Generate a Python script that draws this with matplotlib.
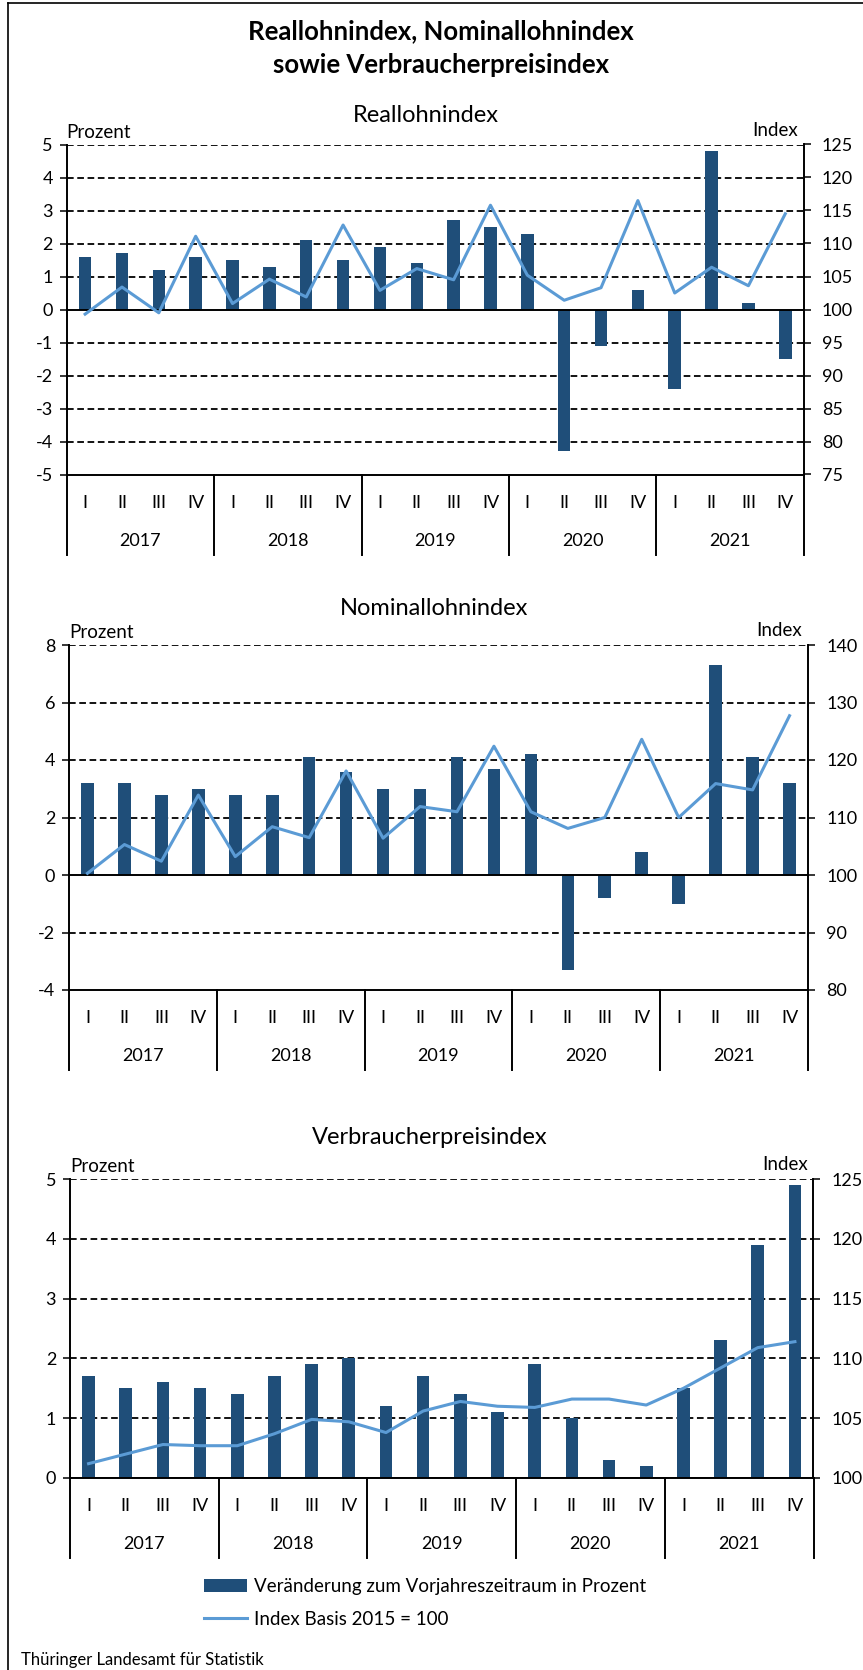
import matplotlib
matplotlib.use("Agg")
import matplotlib.pyplot as plt
import matplotlib.transforms as mtransforms
from matplotlib.lines import Line2D

plt.rcParams["font.family"] = ["Lato", "DejaVu Sans"]
plt.rcParams["axes.unicode_minus"] = False
plt.rcParams["lines.scale_dashes"] = False

W, H = 863, 1670
DARK = "#1F4E79"
LIGHT = "#5B9BD5"
FS = 13.5      # normal text
FS_TICK = 13

quarters = ["I", "II", "III", "IV"] * 5
years = ["2017", "2018", "2019", "2020", "2021"]

# Reallohnindex
real_pct = [1.6, 1.7, 1.2, 1.6, 1.5, 1.3, 2.1, 1.5, 1.9, 1.4,
            2.7, 2.5, 2.3, -4.3, -1.1, 0.6, -2.4, 4.8, 0.2, -1.5]
real_idx = [99.3, 103.4, 99.5, 111.1, 100.9, 104.6, 101.9, 112.8, 102.9, 106.2,
            104.5, 115.8, 105.2, 101.4, 103.3, 116.5, 102.5, 106.4, 103.6, 114.5]

# Nominallohnindex
nom_pct = [3.2, 3.2, 2.8, 3.0, 2.8, 2.8, 4.1, 3.6, 3.0, 3.0,
           4.1, 3.7, 4.2, -3.3, -0.8, 0.8, -1.0, 7.3, 4.1, 3.2]
nom_idx = [100.3, 105.3, 102.4, 113.9, 103.2, 108.4, 106.5, 118.1, 106.4, 111.9,
           111.0, 122.4, 111.0, 108.1, 110.0, 123.6, 110.0, 115.9, 114.8, 127.7]

# Verbraucherpreisindex
vpi_pct = [1.7, 1.5, 1.6, 1.5, 1.4, 1.7, 1.9, 2.0, 1.2, 1.7,
           1.4, 1.1, 1.9, 1.0, 0.3, 0.2, 1.5, 2.3, 3.9, 4.9]
vpi_idx = [101.2, 102.0, 102.8, 102.7, 102.7, 103.7, 104.9, 104.7, 103.8, 105.6,
           106.4, 106.0, 105.9, 106.6, 106.6, 106.1, 107.5, 109.2, 110.9, 111.4]

fig = plt.figure(figsize=(W / 100, H / 100), dpi=100)


def fx(px):
    return px / W


def fy(py):
    return 1 - py / H


def ftext(x, y, s, **kw):
    fig.text(fx(x), fy(y), s, **kw)


def panel(box, pct, idx, ylim, ystep, rlim, rstep, title, title_xy, lab_y):
    left, right, top, bottom = box
    ax = fig.add_axes([fx(left), fy(bottom), fx(right - left), (bottom - top) / H])
    x = list(range(len(pct)))
    ax.set_xlim(-0.5, len(pct) - 0.5)
    ax.set_ylim(*ylim)

    yt = list(range(ylim[0], ylim[1] + 1, ystep))
    for v in yt:
        if v in (0, ylim[0]):
            continue
        ax.axhline(v, color="black", lw=1.3, ls=(0, (4.8, 2.6)), zorder=0.5)
    ax.axhline(0, color="black", lw=1.4, zorder=3)

    bars = ax.bar(x, pct, width=0.34, color=DARK, zorder=2)

    ax.set_yticks(yt)
    ax.set_yticklabels([str(v) for v in yt])
    ax.set_xticks([])
    for s in ["top", "right"]:
        ax.spines[s].set_visible(False)
    ax.spines["left"].set_linewidth(1.4)
    ax.spines["bottom"].set_linewidth(1.4)
    ax.tick_params(axis="y", direction="out", length=5, width=1.1, pad=5, labelsize=FS_TICK)

    ax2 = ax.twinx()
    ax2.set_ylim(*rlim)
    rt = list(range(rlim[0], rlim[1] + 1, rstep))
    ax2.set_yticks(rt)
    ax2.set_yticklabels([str(v) for v in rt])
    for s in ["top", "left", "bottom"]:
        ax2.spines[s].set_visible(False)
    ax2.spines["right"].set_linewidth(1.4)
    ax2.tick_params(axis="y", direction="out", length=5, width=1.1, pad=8, labelsize=FS_TICK)
    line, = ax2.plot(x, idx, color=LIGHT, lw=2.2, zorder=4)

    # category axis below the plot
    tr = mtransforms.blended_transform_factory(ax.transData, fig.transFigure)
    for i, q in enumerate(quarters):
        ax.text(i, fy(bottom + 28), q, transform=tr, ha="center", va="center", fontsize=FS_TICK)
    for k, yr in enumerate(years):
        ax.text(4 * k + 1.5, fy(bottom + 66), yr, transform=tr, ha="center", va="center", fontsize=FS_TICK)
    for k in range(6):
        ax.plot([4 * k - 0.5] * 2, [fy(bottom), fy(bottom + 80)], transform=tr,
                color="black", lw=1.4, clip_on=False)

    ftext(title_xy[0], title_xy[1], title, ha="center", va="center", fontsize=17)
    ftext(left, lab_y, "Prozent", ha="left", va="center", fontsize=FS)
    ftext(right - 6, lab_y - 2, "Index", ha="right", va="center", fontsize=FS)
    return bars, line


bars, line = panel((66.7, 803.7, 144.5, 474.5), real_pct, real_idx, (-5, 5), 1, (75, 125), 5,
                   "Reallohnindex", (426, 116), 133)
panel((69, 808, 645, 990), nom_pct, nom_idx, (-4, 8), 2, (80, 140), 10,
      "Nominallohnindex", (434, 608), 632)
panel((70, 813.5, 1179, 1478), vpi_pct, vpi_idx, (0, 5), 1, (100, 125), 5,
      "Verbraucherpreisindex", (430, 1138), 1167)

ftext(441, 31, "Reallohnindex, Nominallohnindex", ha="center", va="center",
      fontsize=18.5, fontweight="bold")
ftext(441, 65, "sowie Verbraucherpreisindex", ha="center", va="center",
      fontsize=18.5, fontweight="bold")

fig.legend([bars, line],
           ["Veränderung zum Vorjahreszeitraum in Prozent", "Index Basis 2015 = 100"],
           loc="upper left", bbox_to_anchor=(fx(204), fy(1578)), frameon=False,
           fontsize=FS, handlelength=2.3, handletextpad=0.35, labelspacing=0.85,
           borderpad=0, borderaxespad=0)

ftext(21, 1660, "Thüringer Landesamt für Statistik", ha="left", va="center", fontsize=12)

# frame around the graphic
fig.add_artist(Line2D([fx(7.5), fx(7.5)], [fy(3), 0], color="black", lw=1.2))
fig.add_artist(Line2D([fx(7.5), 1], [fy(3), fy(3)], color="black", lw=1.2))

fig.savefig("out.png", dpi=100)
